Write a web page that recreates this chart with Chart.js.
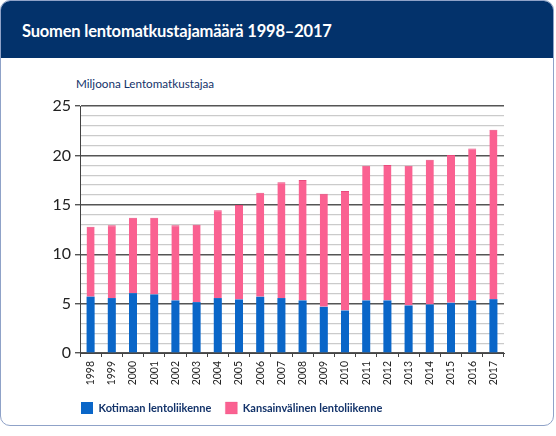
<!DOCTYPE html>
<html>
<head>
<meta charset="utf-8">
<script src="https://cdn.jsdelivr.net/npm/chart.js@4"></script>
<style>
    body { margin: 0; background: #fff; font-family: Lato, sans-serif; }
    #card {
        position: absolute; left: 0; top: 0; width: 552px; height: 424px;
        border: 1px solid #8fa2c8; border-radius: 10px; overflow: hidden;
    }
    #header {
        height: 57px; background: #03326b; color: #fff;
        font-size: 16.5px; font-weight: 700; line-height: 60px; padding-left: 21px;
        letter-spacing: -0.2px;
    }
    #unit {
        position: absolute; left: 76px; top: 76px; color: #13336a; font-size: 11.7px;
    }
    #wrap { position: absolute; left: 0; top: 0; width: 556px; height: 436px; }
</style>
</head>
<body>
<div id="card">
    <div id="header">Suomen lentomatkustajamäärä 1998–2017</div>
</div>
<div id="unit">Miljoona Lentomatkustajaa</div>
<div id="wrap"><canvas id="chart"></canvas></div>
<script>
const years = ["1998", "1999", "2000", "2001", "2002", "2003", "2004", "2005", "2006", "2007",
    "2008", "2009", "2010", "2011", "2012", "2013", "2014", "2015", "2016", "2017"];
// million passengers
const domestic = [5.7, 5.56, 6.06, 5.93, 5.32, 5.15, 5.56, 5.42, 5.69, 5.56,
    5.32, 4.67, 4.3, 5.32, 5.32, 4.81, 4.91, 5.08, 5.32, 5.45];
const total = [12.77, 12.94, 13.69, 13.69, 12.94, 12.97, 14.46, 14.97, 16.23, 17.28,
    17.51, 16.12, 16.4, 18.94, 19.04, 18.94, 19.55, 20.05, 20.7, 22.6];
const international = total.map((t, i) => +(t - domestic[i]).toFixed(2));

const seriesNames = ["Kotimaan lentoliikenne", "Kansainvälinen lentoliikenne"];

// the legend starts under the y axis, not at the canvas edge
const shiftLegend = {
    id: "shiftLegend",
    afterLayout(chart) {
        chart.legend.left += 67;
    },
};

new Chart(document.getElementById("chart"), {
    type: "bar",
    data: {
        labels: years,
        datasets: [
            {
                label: seriesNames[0],
                data: domestic,
                backgroundColor: "#0a66c8",
                borderWidth: 0,
                barPercentage: 0.38,
                categoryPercentage: 1,
            },
            {
                label: seriesNames[1],
                data: international,
                backgroundColor: "#fa6191",
                borderColor: "#e84a7c",
                borderWidth: { top: 1 },
                borderSkipped: false,
                barPercentage: 0.38,
                categoryPercentage: 1,
            },
        ],
    },
    plugins: [shiftLegend],
    options: {
        responsive: true,
        maintainAspectRatio: false,
        animation: false,
        layout: { padding: { left: 0, right: 52, top: 106, bottom: 12 } },
        plugins: {
            tooltip: { enabled: false },
            legend: {
                position: "bottom",
                align: "start",
                labels: {
                    boxWidth: 12,
                    boxHeight: 12,
                    padding: 14,
                    color: "#13336a",
                    font: { family: "Lato", size: 11, weight: "bold" },
                },
            },
        },
        scales: {
            x: {
                stacked: true,
                grid: {
                    offset: true,
                    drawOnChartArea: false,
                    tickLength: 4,
                    color: "#444",
                },
                border: { color: "#444", width: 1 },
                ticks: {
                    minRotation: 90,
                    maxRotation: 90,
                    color: "#222",
                    padding: 4,
                    font: { family: "Lato", size: 10.5 },
                },
                afterFit: (s) => { s.height = 35; },
            },
            y: {
                stacked: true,
                min: 0,
                max: 25,
                grid: {
                    color: (c) => c.tick && c.tick.value % 5 === 0 ? "#555" : "#cbcbcb",
                    lineWidth: (c) => c.tick && c.tick.value % 5 === 0 ? 1.4 : 1.2,
                    tickColor: (c) => c.tick && c.tick.value % 5 === 0 ? "#555" : "rgba(0,0,0,0)",
                    tickLength: 5,
                },
                border: { color: "#444", width: 1 },
                ticks: {
                    stepSize: 1,
                    autoSkip: false,
                    color: "#222",
                    padding: 4,
                    font: { family: "Lato", size: 16 },
                    callback: (v) => v % 5 === 0 ? v : "",
                },
                afterFit: (s) => { s.width = 80; },
            },
        },
    },
});
</script>
</body>
</html>
